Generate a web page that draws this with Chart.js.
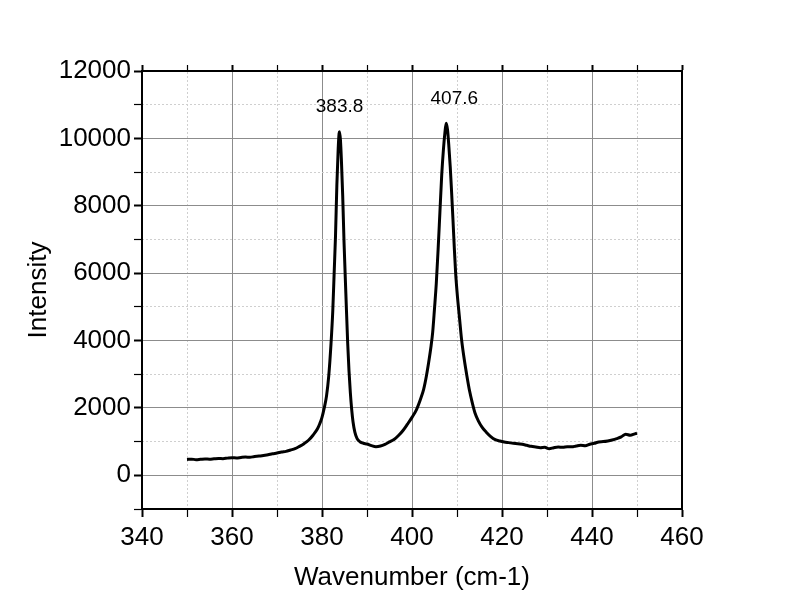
<!DOCTYPE html>
<html><head><meta charset="utf-8">
<script src="https://cdn.jsdelivr.net/npm/chart.js@4/dist/chart.umd.min.js"></script>
<style>html,body{margin:0;padding:0;background:#fff}</style>
</head><body>
<canvas id="c" width="792" height="612"></canvas>
<script>
// ---- data ----
const wavenumber = [
  350,351,352,353,354,355,356,357,358,359,360,361,362,363,364,365,366,367,368,369,
  370,371,372,373,374,375,376,377,378,379,379.5,380,380.5,381,381.5,382,382.4,382.7,383.0,383.3,
  383.6,383.8,383.9,384.1,384.3,384.6,384.9,385.3,385.7,386.0,386.3,386.6,386.9,387.3,387.8,388.5,389.2,390,391,392,
  393,394,395,396,397,398,399,400,401,402,402.6,403.2,403.7,404.2,404.6,405.0,405.4,405.8,406.2,406.6,
  407.0,407.3,407.6,407.9,408.2,408.5,408.8,409.1,409.4,409.7,410.1,410.5,411.0,411.6,412.2,412.8,413.4,414.0,414.8,415.6,
  416.5,417.5,418.5,419.5,420.5,421.5,422.5,423.5,424.5,425.5,426.5,427.5,428.5,429.5,430.5,431.5,432.5,433.5,434.5,435.5,
  436.5,437.5,438.5,439.5,440.5,441.5,442.5,443.5,444.5,445.5,446.5,447.5,448.5,449.5,450
];
const intensity = [
  470,480,465,475,485,480,490,500,495,510,520,515,530,540,535,560,570,590,610,640,
  660,690,710,750,790,860,940,1040,1190,1380,1530,1720,2000,2350,2950,3900,4900,6000,7100,8600,
  9700,10150,10200,9950,9400,8300,6900,5400,3950,3100,2450,1950,1580,1280,1090,990,950,930,880,850,
  870,920,990,1060,1180,1330,1520,1720,1950,2300,2560,2950,3350,3800,4250,4950,5700,6700,7800,8900,
  9700,10150,10450,10250,9750,9150,8400,7600,6750,6000,5300,4750,4050,3450,2950,2500,2150,1850,1600,1420,
  1280,1150,1060,1020,990,970,950,940,920,890,860,840,820,830,790,820,840,830,850,845,
  870,890,880,920,950,990,1000,1020,1050,1090,1140,1220,1190,1230,1250
];
const peakLabels = ['383.8', '407.6'];
const peakLabelX = [383.9, 409.4];
const peakLabelY = [10940, 11170];
const xTitle = 'Wavenumber (cm-1)';
const yTitle = 'Intensity';

// ---- style ----
const FONT = "'Liberation Sans', Arial, sans-serif";
const MAJOR = '#8c8c8c';
const MINOR = '#cfcfcf';
const CLEAR = 'rgba(0,0,0,0)';

const points = wavenumber.map((x, i) => ({x: x, y: intensity[i]}));

const peakLabelPlugin = {
  id: 'peakLabels',
  afterDatasetsDraw(chart) {
    const ctx = chart.ctx, xs = chart.scales.x, ys = chart.scales.y;
    ctx.save();
    ctx.font = '19px ' + FONT;
    ctx.fillStyle = '#000';
    ctx.textAlign = 'center';
    ctx.textBaseline = 'middle';
    peakLabels.forEach((t, i) => {
      ctx.fillText(t, xs.getPixelForValue(peakLabelX[i]), ys.getPixelForValue(peakLabelY[i]));
    });
    ctx.restore();
  }
};

new Chart(document.getElementById('c'), {
  type: 'line',
  data: {
    datasets: [{
      data: points,
      borderColor: '#000',
      borderWidth: 3,
      pointRadius: 0,
      fill: false,
      cubicInterpolationMode: 'monotone',
      xAxisID: 'x',
      yAxisID: 'y'
    }]
  },
  options: {
    responsive: false,
    animation: false,
    devicePixelRatio: 1,
    layout: {padding: 0},
    plugins: {legend: {display: false}, tooltip: {enabled: false}},
    scales: {
      x: {
        type: 'linear', position: 'bottom', min: 340, max: 460,
        afterFit: s => { s.height = 103; },
        ticks: {
          stepSize: 10, autoSkip: false, maxRotation: 0, padding: 5,
          color: '#000', font: {family: FONT, size: 26},
          callback: v => (v % 20 === 0 ? String(v) : '')
        },
        grid: {
          color: c => (c.tick && c.tick.value % 20 === 0 && c.tick.value > 340 && c.tick.value < 460 ? MAJOR : CLEAR),
          lineWidth: 1, tickLength: 8, tickColor: '#000',
          tickWidth: c => (c.tick && c.tick.value % 20 === 0 ? 2 : 1.2)
        },
        border: {color: '#000', width: 2},
        title: {display: true, text: xTitle, color: '#000', font: {family: FONT, size: 26}, padding: {top: 0, bottom: 19}}
      },
      x2: {
        type: 'linear', position: 'top', min: 340, max: 460,
        afterFit: s => { s.height = 71; },
        ticks: {display: false, stepSize: 10, autoSkip: false},
        grid: {
          color: c => (c.tick && c.tick.value % 20 !== 0 ? MINOR : CLEAR),
          lineWidth: 1, tickLength: 6, tickColor: '#000',
          tickWidth: c => (c.tick && c.tick.value % 20 === 0 ? 2 : 1.2)
        },
        border: {color: '#000', width: 2, dash: [2, 2]}
      },
      y: {
        type: 'linear', position: 'left', min: -1000, max: 12000,
        afterFit: s => { s.width = 142; },
        ticks: {
          stepSize: 1000, autoSkip: false, padding: 3,
          color: '#000', font: {family: FONT, size: 26},
          callback: v => (v % 2000 === 0 ? String(v) : '')
        },
        grid: {
          color: c => (c.tick && c.tick.value % 2000 === 0 && c.tick.value < 12000 ? MAJOR : CLEAR),
          lineWidth: 1, tickLength: 8, tickColor: '#000',
          tickWidth: c => (c.tick && c.tick.value % 2000 === 0 ? 2 : 1.2)
        },
        border: {color: '#000', width: 2},
        title: {display: true, text: yTitle, color: '#000', font: {family: FONT, size: 26}, padding: {top: 23, bottom: 0}}
      },
      y2: {
        type: 'linear', position: 'right', min: -1000, max: 12000,
        afterFit: s => { s.width = 110; },
        ticks: {display: false, stepSize: 1000, autoSkip: false},
        grid: {
          color: c => (c.tick && c.tick.value % 2000 !== 0 && c.tick.value > -1000 ? MINOR : CLEAR),
          lineWidth: 1, drawTicks: false
        },
        border: {color: '#000', width: 2, dash: [2, 2]}
      }
    }
  },
  plugins: [peakLabelPlugin]
});
</script>
</body></html>
